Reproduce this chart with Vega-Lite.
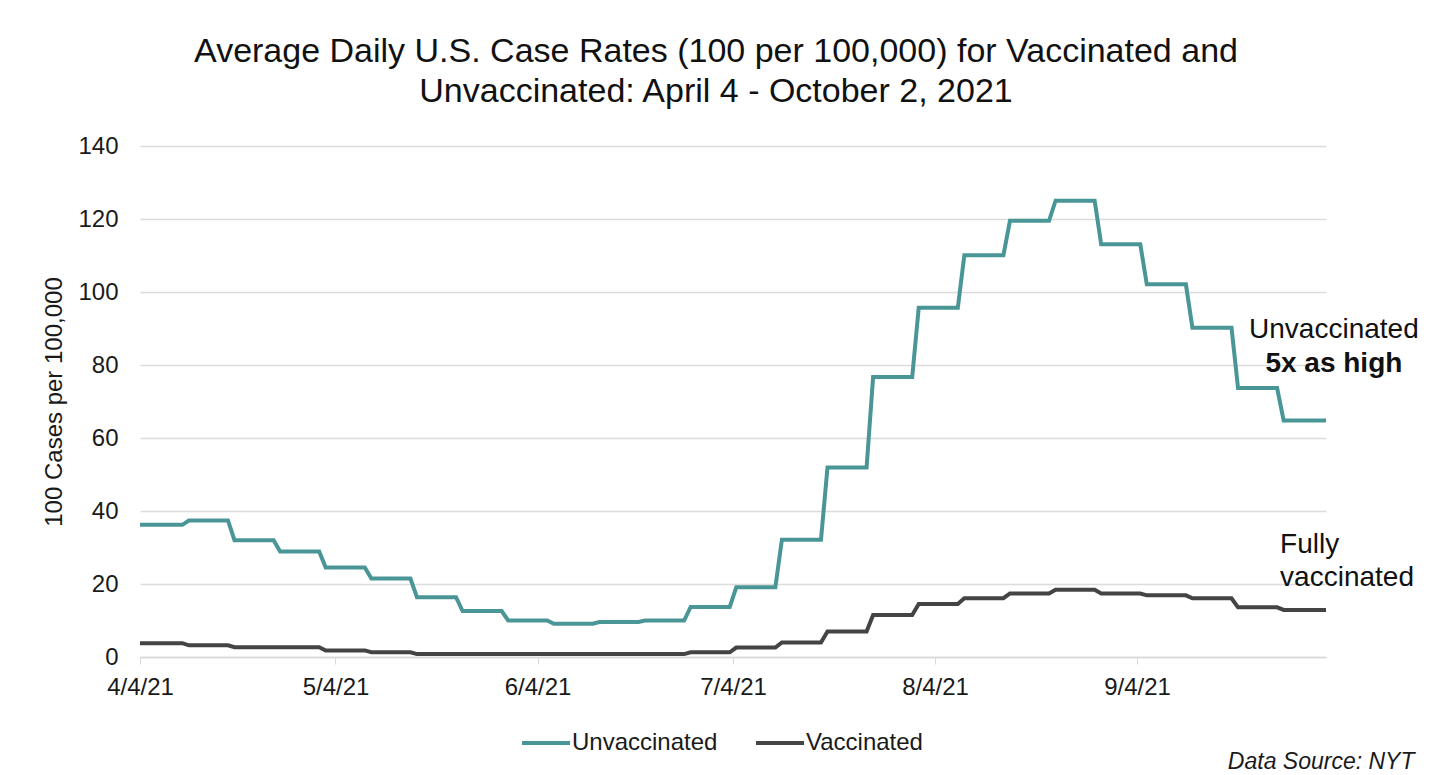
{
  "$schema": "https://vega.github.io/schema/vega-lite/v6.json",
  "width": 1186,
  "height": 511,
  "autosize": {"type": "none"},
  "padding": {"left": 140, "top": 146, "right": 107, "bottom": 118},
  "background": "white",
  "title": {
    "text": ["Average Daily U.S. Case Rates (100 per 100,000) for Vaccinated and", "Unvaccinated: April 4 - October 2, 2021"],
    "fontSize": 34,
    "fontWeight": "normal",
    "color": "#111111",
    "lineHeight": 40,
    "anchor": "middle",
    "dx": -17,
    "offset": 25
  },
  "config": {
    "view": {"stroke": null},
    "font": "Liberation Sans"
  },
  "layer": [
    {
      "data": {
        "values": [
          {"date": "2021-04-04T00:00:00", "series": "Unvaccinated", "value": 36.2},
          {"date": "2021-04-10T12:00:00", "series": "Unvaccinated", "value": 36.2},
          {"date": "2021-04-11T12:00:00", "series": "Unvaccinated", "value": 37.4},
          {"date": "2021-04-17T12:00:00", "series": "Unvaccinated", "value": 37.4},
          {"date": "2021-04-18T12:00:00", "series": "Unvaccinated", "value": 32.0},
          {"date": "2021-04-24T12:00:00", "series": "Unvaccinated", "value": 32.0},
          {"date": "2021-04-25T12:00:00", "series": "Unvaccinated", "value": 28.9},
          {"date": "2021-05-01T12:00:00", "series": "Unvaccinated", "value": 28.9},
          {"date": "2021-05-02T12:00:00", "series": "Unvaccinated", "value": 24.5},
          {"date": "2021-05-08T12:00:00", "series": "Unvaccinated", "value": 24.5},
          {"date": "2021-05-09T12:00:00", "series": "Unvaccinated", "value": 21.5},
          {"date": "2021-05-15T12:00:00", "series": "Unvaccinated", "value": 21.5},
          {"date": "2021-05-16T12:00:00", "series": "Unvaccinated", "value": 16.4},
          {"date": "2021-05-22T12:00:00", "series": "Unvaccinated", "value": 16.4},
          {"date": "2021-05-23T12:00:00", "series": "Unvaccinated", "value": 12.6},
          {"date": "2021-05-29T12:00:00", "series": "Unvaccinated", "value": 12.6},
          {"date": "2021-05-30T12:00:00", "series": "Unvaccinated", "value": 10.0},
          {"date": "2021-06-05T12:00:00", "series": "Unvaccinated", "value": 10.0},
          {"date": "2021-06-06T12:00:00", "series": "Unvaccinated", "value": 9.1},
          {"date": "2021-06-12T12:00:00", "series": "Unvaccinated", "value": 9.1},
          {"date": "2021-06-13T12:00:00", "series": "Unvaccinated", "value": 9.6},
          {"date": "2021-06-19T12:00:00", "series": "Unvaccinated", "value": 9.6},
          {"date": "2021-06-20T12:00:00", "series": "Unvaccinated", "value": 10.0},
          {"date": "2021-06-26T12:00:00", "series": "Unvaccinated", "value": 10.0},
          {"date": "2021-06-27T12:00:00", "series": "Unvaccinated", "value": 13.7},
          {"date": "2021-07-03T12:00:00", "series": "Unvaccinated", "value": 13.7},
          {"date": "2021-07-04T12:00:00", "series": "Unvaccinated", "value": 19.1},
          {"date": "2021-07-10T12:00:00", "series": "Unvaccinated", "value": 19.1},
          {"date": "2021-07-11T12:00:00", "series": "Unvaccinated", "value": 32.1},
          {"date": "2021-07-17T12:00:00", "series": "Unvaccinated", "value": 32.1},
          {"date": "2021-07-18T12:00:00", "series": "Unvaccinated", "value": 51.9},
          {"date": "2021-07-24T12:00:00", "series": "Unvaccinated", "value": 51.9},
          {"date": "2021-07-25T12:00:00", "series": "Unvaccinated", "value": 76.7},
          {"date": "2021-07-31T12:00:00", "series": "Unvaccinated", "value": 76.7},
          {"date": "2021-08-01T12:00:00", "series": "Unvaccinated", "value": 95.7},
          {"date": "2021-08-07T12:00:00", "series": "Unvaccinated", "value": 95.7},
          {"date": "2021-08-08T12:00:00", "series": "Unvaccinated", "value": 110.1},
          {"date": "2021-08-14T12:00:00", "series": "Unvaccinated", "value": 110.1},
          {"date": "2021-08-15T12:00:00", "series": "Unvaccinated", "value": 119.5},
          {"date": "2021-08-21T12:00:00", "series": "Unvaccinated", "value": 119.5},
          {"date": "2021-08-22T12:00:00", "series": "Unvaccinated", "value": 125.0},
          {"date": "2021-08-28T12:00:00", "series": "Unvaccinated", "value": 125.0},
          {"date": "2021-08-29T12:00:00", "series": "Unvaccinated", "value": 113.1},
          {"date": "2021-09-04T12:00:00", "series": "Unvaccinated", "value": 113.1},
          {"date": "2021-09-05T12:00:00", "series": "Unvaccinated", "value": 102.1},
          {"date": "2021-09-11T12:00:00", "series": "Unvaccinated", "value": 102.1},
          {"date": "2021-09-12T12:00:00", "series": "Unvaccinated", "value": 90.2},
          {"date": "2021-09-18T12:00:00", "series": "Unvaccinated", "value": 90.2},
          {"date": "2021-09-19T12:00:00", "series": "Unvaccinated", "value": 73.7},
          {"date": "2021-09-25T12:00:00", "series": "Unvaccinated", "value": 73.7},
          {"date": "2021-09-26T12:00:00", "series": "Unvaccinated", "value": 64.8},
          {"date": "2021-10-03T00:00:00", "series": "Unvaccinated", "value": 64.8},
          {"date": "2021-04-04T00:00:00", "series": "Vaccinated", "value": 3.8},
          {"date": "2021-04-10T12:00:00", "series": "Vaccinated", "value": 3.8},
          {"date": "2021-04-11T12:00:00", "series": "Vaccinated", "value": 3.2},
          {"date": "2021-04-17T12:00:00", "series": "Vaccinated", "value": 3.2},
          {"date": "2021-04-18T12:00:00", "series": "Vaccinated", "value": 2.7},
          {"date": "2021-04-24T12:00:00", "series": "Vaccinated", "value": 2.7},
          {"date": "2021-04-25T12:00:00", "series": "Vaccinated", "value": 2.7},
          {"date": "2021-05-01T12:00:00", "series": "Vaccinated", "value": 2.7},
          {"date": "2021-05-02T12:00:00", "series": "Vaccinated", "value": 1.8},
          {"date": "2021-05-08T12:00:00", "series": "Vaccinated", "value": 1.8},
          {"date": "2021-05-09T12:00:00", "series": "Vaccinated", "value": 1.3},
          {"date": "2021-05-15T12:00:00", "series": "Vaccinated", "value": 1.3},
          {"date": "2021-05-16T12:00:00", "series": "Vaccinated", "value": 0.8},
          {"date": "2021-05-22T12:00:00", "series": "Vaccinated", "value": 0.8},
          {"date": "2021-05-23T12:00:00", "series": "Vaccinated", "value": 0.8},
          {"date": "2021-05-29T12:00:00", "series": "Vaccinated", "value": 0.8},
          {"date": "2021-05-30T12:00:00", "series": "Vaccinated", "value": 0.8},
          {"date": "2021-06-05T12:00:00", "series": "Vaccinated", "value": 0.8},
          {"date": "2021-06-06T12:00:00", "series": "Vaccinated", "value": 0.8},
          {"date": "2021-06-12T12:00:00", "series": "Vaccinated", "value": 0.8},
          {"date": "2021-06-13T12:00:00", "series": "Vaccinated", "value": 0.8},
          {"date": "2021-06-19T12:00:00", "series": "Vaccinated", "value": 0.8},
          {"date": "2021-06-20T12:00:00", "series": "Vaccinated", "value": 0.8},
          {"date": "2021-06-26T12:00:00", "series": "Vaccinated", "value": 0.8},
          {"date": "2021-06-27T12:00:00", "series": "Vaccinated", "value": 1.3},
          {"date": "2021-07-03T12:00:00", "series": "Vaccinated", "value": 1.3},
          {"date": "2021-07-04T12:00:00", "series": "Vaccinated", "value": 2.6},
          {"date": "2021-07-10T12:00:00", "series": "Vaccinated", "value": 2.6},
          {"date": "2021-07-11T12:00:00", "series": "Vaccinated", "value": 4.0},
          {"date": "2021-07-17T12:00:00", "series": "Vaccinated", "value": 4.0},
          {"date": "2021-07-18T12:00:00", "series": "Vaccinated", "value": 7.0},
          {"date": "2021-07-24T12:00:00", "series": "Vaccinated", "value": 7.0},
          {"date": "2021-07-25T12:00:00", "series": "Vaccinated", "value": 11.5},
          {"date": "2021-07-31T12:00:00", "series": "Vaccinated", "value": 11.5},
          {"date": "2021-08-01T12:00:00", "series": "Vaccinated", "value": 14.5},
          {"date": "2021-08-07T12:00:00", "series": "Vaccinated", "value": 14.5},
          {"date": "2021-08-08T12:00:00", "series": "Vaccinated", "value": 16.1},
          {"date": "2021-08-14T12:00:00", "series": "Vaccinated", "value": 16.1},
          {"date": "2021-08-15T12:00:00", "series": "Vaccinated", "value": 17.4},
          {"date": "2021-08-21T12:00:00", "series": "Vaccinated", "value": 17.4},
          {"date": "2021-08-22T12:00:00", "series": "Vaccinated", "value": 18.4},
          {"date": "2021-08-28T12:00:00", "series": "Vaccinated", "value": 18.4},
          {"date": "2021-08-29T12:00:00", "series": "Vaccinated", "value": 17.4},
          {"date": "2021-09-04T12:00:00", "series": "Vaccinated", "value": 17.4},
          {"date": "2021-09-05T12:00:00", "series": "Vaccinated", "value": 16.9},
          {"date": "2021-09-11T12:00:00", "series": "Vaccinated", "value": 16.9},
          {"date": "2021-09-12T12:00:00", "series": "Vaccinated", "value": 16.1},
          {"date": "2021-09-18T12:00:00", "series": "Vaccinated", "value": 16.1},
          {"date": "2021-09-19T12:00:00", "series": "Vaccinated", "value": 13.6},
          {"date": "2021-09-25T12:00:00", "series": "Vaccinated", "value": 13.6},
          {"date": "2021-09-26T12:00:00", "series": "Vaccinated", "value": 12.9},
          {"date": "2021-10-03T00:00:00", "series": "Vaccinated", "value": 12.9}
        ]
      },
      "mark": {"type": "line", "strokeWidth": 4},
      "encoding": {
        "x": {
          "field": "date",
          "type": "temporal",
          "scale": {"domain": [{"year": 2021, "month": 4, "date": 4}, {"year": 2021, "month": 10, "date": 3}]},
          "axis": {
            "values": [
              {"year": 2021, "month": 4, "date": 4},
              {"year": 2021, "month": 5, "date": 4},
              {"year": 2021, "month": 6, "date": 4},
              {"year": 2021, "month": 7, "date": 4},
              {"year": 2021, "month": 8, "date": 4},
              {"year": 2021, "month": 9, "date": 4}
            ],
            "format": "%-m/%-d/%y",
            "labelFlush": false,
            "labelFontSize": 24,
            "labelColor": "#1a1a1a",
            "labelPadding": 11,
            "domainColor": "#d9d9d9",
            "domainWidth": 1.5,
            "tickColor": "#d9d9d9",
            "tickSize": 7,
            "grid": false,
            "title": "Data Source: NYT",
            "titleFontSize": 23,
            "titleFontStyle": "italic",
            "titleFontWeight": "normal",
            "titleColor": "#1a1a1a",
            "titleAlign": "right",
            "titleAnchor": "end",
            "titleBaseline": "alphabetic",
            "titleX": 1274,
            "titleY": 111
          }
        },
        "y": {
          "field": "value",
          "type": "quantitative",
          "scale": {"domain": [0, 140], "nice": false},
          "axis": {
            "values": [0, 20, 40, 60, 80, 100, 120, 140],
            "grid": true,
            "gridColor": "#dcdcdc",
            "gridWidth": 1.5,
            "domain": false,
            "ticks": false,
            "labelFontSize": 24,
            "labelColor": "#1a1a1a",
            "labelPadding": 22,
            "title": "100 Cases per 100,000",
            "titleFontSize": 24,
            "titleFontWeight": "normal",
            "titleColor": "#1a1a1a",
            "titlePadding": 11
          }
        },
        "color": {
          "field": "series",
          "type": "nominal",
          "scale": {"domain": ["Unvaccinated", "Vaccinated"], "range": ["#4a9697", "#444444"]},
          "legend": {
            "orient": "none",
            "legendX": 380,
            "legendY": 571,
            "direction": "horizontal",
            "title": null,
            "padding": 0,
            "symbolType": "stroke",
            "symbolSize": 2304,
            "symbolStrokeWidth": 4,
            "labelFontSize": 24,
            "labelColor": "#1a1a1a",
            "labelOffset": 0,
            "columnPadding": 30
          }
        }
      }
    },
    {
      "data": {"values": [{"date": "2021-10-04T05:00:00", "value": 89.6, "label": "Unvaccinated"}]},
      "mark": {"type": "text", "align": "center", "baseline": "middle", "fontSize": 28, "color": "#111111"},
      "encoding": {
        "x": {"field": "date", "type": "temporal"},
        "y": {"field": "value", "type": "quantitative"},
        "text": {"field": "label"}
      }
    },
    {
      "data": {"values": [{"date": "2021-10-04T05:00:00", "value": 80.3, "label": "5x as high"}]},
      "mark": {"type": "text", "align": "center", "baseline": "middle", "fontSize": 28, "fontWeight": "bold", "color": "#111111"},
      "encoding": {
        "x": {"field": "date", "type": "temporal"},
        "y": {"field": "value", "type": "quantitative"},
        "text": {"field": "label"}
      }
    },
    {
      "data": {"values": [
        {"date": "2021-09-25T23:00:00", "value": 30.7, "label": "Fully"},
        {"date": "2021-09-25T23:00:00", "value": 21.6, "label": "vaccinated"}
      ]},
      "mark": {"type": "text", "align": "left", "baseline": "middle", "fontSize": 28, "color": "#111111"},
      "encoding": {
        "x": {"field": "date", "type": "temporal"},
        "y": {"field": "value", "type": "quantitative"},
        "text": {"field": "label"}
      }
    }
  ]
}
